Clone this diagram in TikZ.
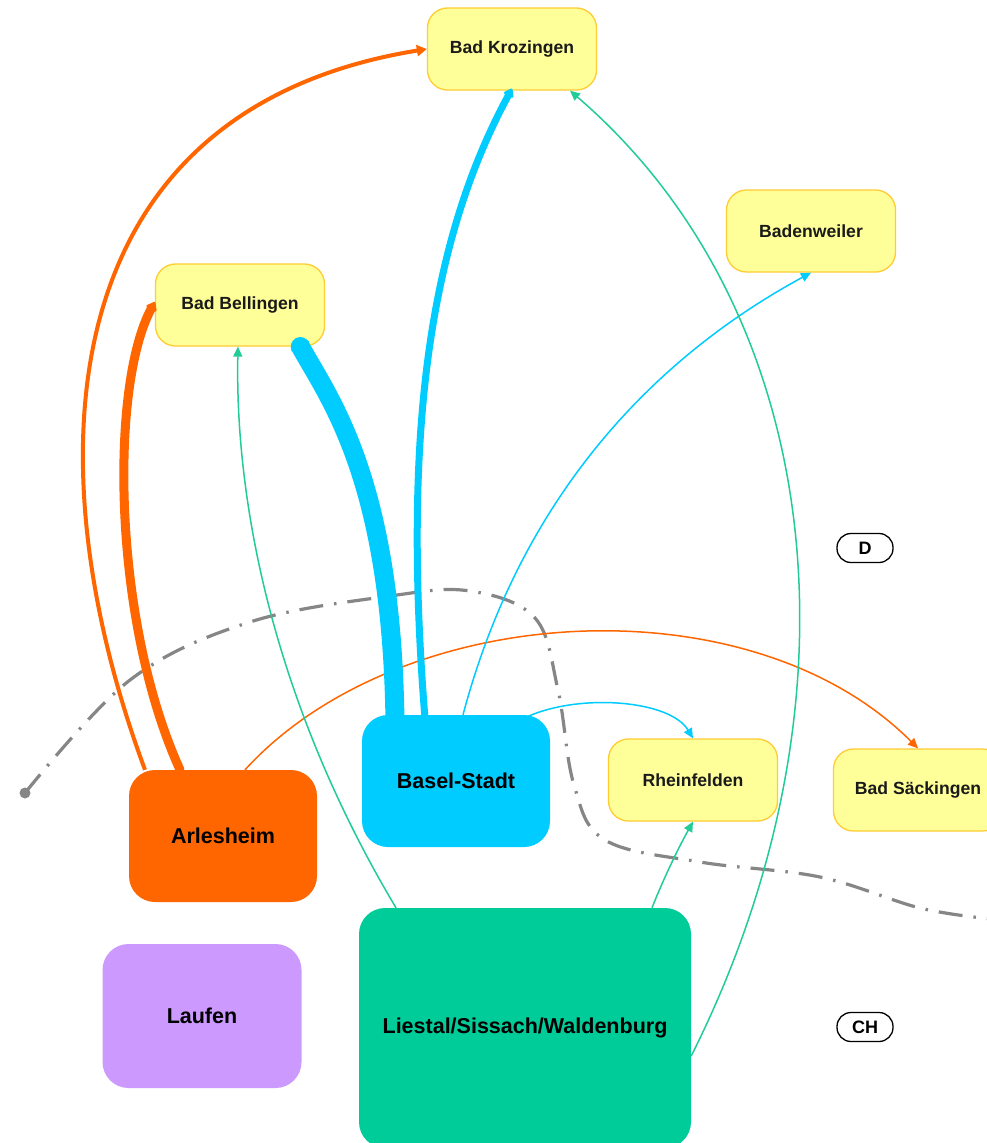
\documentclass[tikz,border=0pt]{standalone}
\usepackage{fontspec}
\setmainfont{Liberation Sans}
\usetikzlibrary{arrows.meta}
\definecolor{orng}{HTML}{FF6600}
\definecolor{cyn}{HTML}{00CCFF}
\definecolor{grn}{HTML}{00CC99}
\definecolor{lgrn}{HTML}{22CC99}
\definecolor{prp}{HTML}{CC99FF}
\definecolor{ylw}{HTML}{FFFF99}
\definecolor{ylwb}{HTML}{FFCC33}
\definecolor{txt}{HTML}{1A1A1A}
\tikzset{
  town/.style={draw=ylwb, line width=1.3pt, fill=ylw, rounded corners=20pt,
    minimum width=169pt, minimum height=82pt, inner sep=0pt, text=txt,
    font=\fontsize{17.6}{20}\selectfont\bfseries},
  region/.style={rounded corners=26pt, inner sep=0pt, text=black,
    font=\fontsize{21.5}{25}\selectfont\bfseries},
  country/.style={draw=black, line width=1.3pt, rounded corners=14pt,
    minimum width=56pt, minimum height=29pt, inner sep=0pt,
    font=\fontsize{18}{20}\selectfont\bfseries},
  thin/.style={line width=1.5pt, -{Triangle[length=10pt,width=9pt]}},
  mid/.style={line width=4pt, -{Triangle[length=10pt,width=11pt]}},
  thick/.style={line width=9pt, line cap=round, -{Triangle[round,length=9pt,width=13pt]}},
  vthick/.style={line width=19pt, line cap=round, -{Triangle[round,length=10pt,width=24pt]}},
  border/.style={draw=gray!95, line width=3.2pt, dash pattern=on 24pt off 11pt on 2.5pt off 11pt}
}
\begin{document}
\begin{tikzpicture}[x=1pt,y=-1pt]
\useasboundingbox (0,0) rectangle (987,1143);
\clip (0,0) rectangle (987,1143);
\fill[white] (0,0) rectangle (987,1143);

% nodes
\node[town] (kro) at (512,49) {Bad Krozingen};
\node[town] (bel) at (240,305) {Bad Bellingen};
\node[town] (bdw) at (811,231) {Badenweiler};
\node[town] (rhf) at (693,780) {Rheinfelden};
\node[town] (sak) at (918,790) {Bad Säckingen};
\node[region, fill=orng, minimum width=188pt, minimum height=132pt] (arl) at (223,836) {Arlesheim};
\node[region, fill=cyn, minimum width=188pt, minimum height=132pt] (bas) at (456,781) {Basel-Stadt};
\node[region, fill=prp, minimum width=199pt, minimum height=144pt] (lau) at (202,1016) {Laufen};
\node[region, fill=grn, minimum width=332pt, minimum height=240pt] (lie) at (525,1028) {Liestal/Sissach/Waldenburg};
\node[country] (d) at (865,548) {D};
\node[country] (ch) at (865,1027) {CH};

% border line
\fill[gray!95] (25,793) circle (5.5pt);
\coordinate (bstart) at (25,793);
\draw[border] plot[smooth, tension=0.6] coordinates {(25,793) (130,680) (250,622) (390,596) (470,591) (535,618) (558,690) (574,785) (605,840) (700,862) (820,877) (920,908) (992,919)};

% connectors
\draw[orng, mid] ([xshift=-78pt]arl.north) .. controls (30,460) and (50,110) .. (kro.west);
\draw[orng, thick] ([xshift=-43pt]arl.north) .. controls (112,620) and (110,385) .. ([yshift=3pt]bel.west);
\draw[orng, thin] ([xshift=22pt]arl.north) .. controls (400,600) and (750,580) .. (sak.north);

\draw[cyn, vthick] ([xshift=-61pt,yshift=-8pt]bas.north) .. controls (392,480) and (330,400) .. ([xshift=56pt,yshift=8pt]bel.south);
\draw[cyn, line width=7pt, -{Triangle[round,length=9pt,width=12pt]}] ([xshift=-31pt,yshift=-4pt]bas.north) .. controls (402,430) and (430,240) .. ([yshift=2pt]kro.south);
\draw[cyn, thin] ([xshift=7pt]bas.north) .. controls (520,500) and (650,360) .. (bdw.south);
\draw[cyn, thin] ([xshift=71pt,yshift=-2pt]bas.north) .. controls (580,693) and (670,700) .. (rhf.north);

\draw[lgrn, thin] ([xshift=-129pt]lie.north) .. controls (272,700) and (235,500) .. ([xshift=-2pt]bel.south);
\draw[lgrn, thin] ([yshift=-28pt]lie.east) .. controls (870,700) and (825,310) .. ([xshift=58pt]kro.south);
\draw[lgrn, thin] ([xshift=127pt]lie.north) .. controls (665,875) and (680,845) .. (rhf.south);
\end{tikzpicture}
\end{document}
